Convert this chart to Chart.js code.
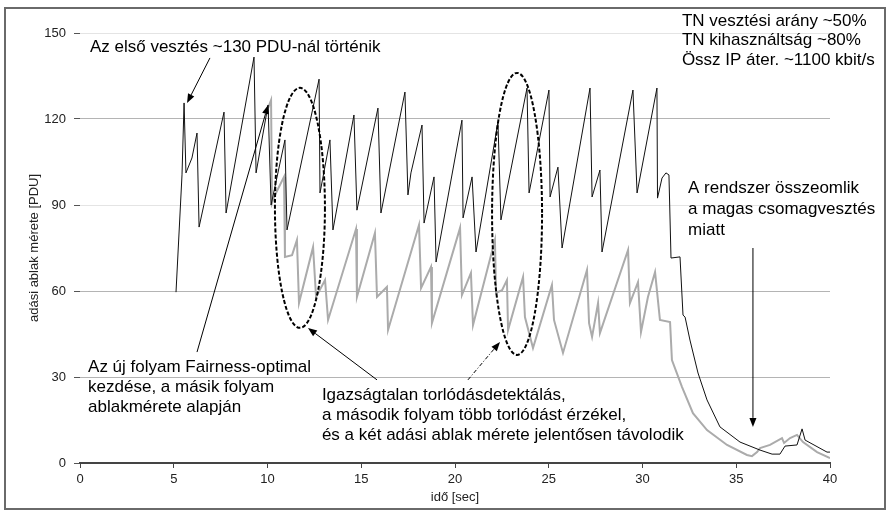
<!DOCTYPE html>
<html><head><meta charset="utf-8">
<script src="https://cdn.jsdelivr.net/npm/chart.js@4"></script>
<style>html,body{margin:0;padding:0;background:#fff;}#wrap{width:888px;height:511px;position:relative;}</style>
</head><body><div id="wrap"><canvas id="c" width="888" height="511"></canvas></div>
<script>
const xTickValues = [0,5,10,15,20,25,30,35,40];
const yTickValues = [0,30,60,90,120,150];
const flow1Time = [5.12,5.44,5.55,5.65,5.97,6.24,6.35,7.68,7.79,9.28,9.39,10.03,10.19,10.93,11.04,12.75,12.80,13.33,13.49,14.61,14.77,15.89,16.05,17.33,17.49,17.65,18.24,18.35,18.88,18.99,20.37,20.43,20.91,21.12,22.29,22.45,23.84,23.95,25.01,25.07,25.49,25.71,27.20,27.31,27.73,27.84,29.49,29.71,30.77,30.80,31.04,31.25,31.41,31.52,32.00,32.16,32.27,32.53,32.96,33.44,34.13,35.20,36.27,36.91,37.33,37.60,38.24,38.51,38.67,39.84,40.00];
const flow1Window = [59.6,100.5,125.6,101.2,106.4,115.1,82.3,122.4,87.2,141.6,101.2,124.9,90.0,112.7,81.3,133.9,94.2,112.7,81.3,121.4,88.2,123.8,87.2,129.4,93.5,101.2,117.9,83.7,99.8,70.1,119.6,85.5,99.8,73.6,118.9,84.8,130.8,94.2,130.1,92.8,103.2,75.0,130.8,92.8,102.2,73.6,130.1,94.2,130.8,92.4,99.4,101.2,100.5,71.5,71.9,51.6,50.9,42.9,31.4,22.0,12.6,7.3,4.5,3.1,3.1,5.9,6.3,11.9,8.0,3.8,3.8];
const flow2Time = [10.03,10.19,10.24,10.40,10.88,10.93,11.31,11.57,11.68,12.43,12.59,13.07,13.23,14.72,14.77,15.73,15.84,16.37,16.43,18.08,18.19,18.72,18.77,20.27,20.37,20.85,20.96,22.13,22.19,22.51,22.77,22.83,23.63,23.73,24.16,25.17,25.28,25.76,27.04,27.15,27.31,27.63,27.73,29.23,29.33,29.76,29.92,30.29,30.67,30.93,31.47,31.57,32.11,32.69,33.44,34.51,35.57,35.84,36.11,36.27,36.80,37.44,37.55,37.87,38.24,38.56,39.31,40.00];
const flow2Window = [123.8,126.6,90.7,93.5,99.8,71.9,72.5,77.8,55.8,75.3,57.9,63.8,49.9,81.6,57.9,80.2,57.9,61.4,46.4,83.0,61.0,68.4,48.8,82.0,58.6,66.3,48.1,77.8,59.3,60.3,63.8,46.4,64.9,50.9,40.1,62.1,49.9,38.4,67.3,48.8,44.0,55.8,45.3,74.3,55.8,63.1,45.7,57.9,66.6,49.9,49.2,35.9,26.5,17.4,11.5,6.3,2.8,2.4,3.8,5.2,6.3,8.7,7.0,8.7,9.8,7.3,3.8,1.7];

const FONT = "'Liberation Sans', Arial, sans-serif";
const pts = (xs, ys) => xs.map((v, i) => ({x: v, y: ys[i]}));

const annotations = {
  id: 'annotations',
  beforeDraw(chart) {
    const ctx = chart.ctx;
    ctx.save();
    ctx.fillStyle = '#fff';
    ctx.fillRect(0, 0, chart.width, chart.height);
    ctx.restore();
  },
  afterDraw(chart) {
    const {ctx, scales: {x, y}} = chart;
    const px = v => x.getPixelForValue(v);
    const py = v => y.getPixelForValue(v);
    ctx.save();
    // frame
    ctx.strokeStyle = '#6a6a6a';
    ctx.lineWidth = 2;
    ctx.strokeRect(5, 8, 880, 501);

    // ellipses
    ctx.strokeStyle = '#000';
    ctx.lineWidth = 2;
    ctx.setLineDash([4, 2]);
    ctx.beginPath(); ctx.ellipse(px(11.73), py(89.0), 25, 120, 0, 0, Math.PI * 2); ctx.stroke();
    ctx.beginPath(); ctx.ellipse(px(23.31), py(86.9), 25, 141, 0, 0, Math.PI * 2); ctx.stroke();
    ctx.setLineDash([]);

    function arrow(x1, y1, x2, y2, dash) {
      const a = px(x1), b = py(y1), c = px(x2), d = py(y2);
      const ang = Math.atan2(d - b, c - a);
      const L = 9, W = 3.5;
      ctx.strokeStyle = '#000';
      ctx.fillStyle = '#000';
      ctx.lineWidth = 1;
      ctx.setLineDash(dash || []);
      ctx.beginPath(); ctx.moveTo(a, b); ctx.lineTo(c - L * Math.cos(ang), d - L * Math.sin(ang)); ctx.stroke();
      ctx.setLineDash([]);
      ctx.beginPath();
      ctx.moveTo(c, d);
      ctx.lineTo(c - L * Math.cos(ang) + W * Math.sin(ang), d - L * Math.sin(ang) - W * Math.cos(ang));
      ctx.lineTo(c - L * Math.cos(ang) - W * Math.sin(ang), d - L * Math.sin(ang) + W * Math.cos(ang));
      ctx.closePath(); ctx.fill();
    }
    arrow(6.93, 141.3, 5.71, 125.6);
    arrow(6.24, 38.7, 10.03, 124.9);
    arrow(35.89, 75, 35.89, 12.6);
    arrow(15.84, 29.0, 12.16, 47.1);
    arrow(20.69, 29.0, 22.40, 42.2, [4, 2, 1, 2]);

    function text(lines, xv, yv, step) {
      ctx.fillStyle = '#000';
      ctx.font = '17px ' + FONT;
      ctx.textAlign = 'left';
      ctx.textBaseline = 'middle';
      lines.forEach((t, i) => ctx.fillText(t, px(xv), py(yv) + i * step));
    }
    text(['Az első vesztés ~130 PDU-nál történik'], 0.53, 145.1, 0);
    text(['TN vesztési arány ~50%', 'TN kihasználtság ~80%', 'Össz IP áter. ~1100 kbit/s'], 32.1, 154.2, 19.5);
    text(['A rendszer összeomlik', 'a magas csomagvesztés', 'miatt'], 32.43, 95.9, 21);
    text(['Az új folyam Fairness-optimal', 'kezdése, a másik folyam', 'ablakmérete alapján'], 0.43, 33.5, 20);
    text(['Igazságtalan torlódásdetektálás,', 'a második folyam több torlódást érzékel,', 'és a két adási ablak mérete jelentősen távolodik'], 12.9, 23.7, 20);
    ctx.restore();
  }
};

new Chart(document.getElementById('c'), {
  type: 'line',
  data: {
    datasets: [
      {data: pts(flow1Time, flow1Window), borderColor: '#111', borderWidth: 1, pointRadius: 0, tension: 0, fill: false},
      {data: pts(flow2Time, flow2Window), borderColor: '#ababab', borderWidth: 2, pointRadius: 0, tension: 0, fill: false}
    ]
  },
  options: {
    responsive: false,
    devicePixelRatio: 1,
    animation: false,
    layout: {padding: {left: 0, right: 58, top: 33, bottom: 0}},
    plugins: {legend: {display: false}, tooltip: {enabled: false}},
    scales: {
      x: {
        type: 'linear', min: 0, max: 40,
        afterBuildTicks: s => { s.ticks = xTickValues.map(v => ({value: v})); },
        afterFit: s => { s.height = 48; },
        border: {display: true, color: '#444', width: 2},
        grid: {drawOnChartArea: false, drawTicks: true, tickLength: 5, tickColor: '#444', tickWidth: 1},
        ticks: {color: '#222', font: {family: FONT, size: 13}, padding: 4, maxRotation: 0},
        title: {display: true, text: 'idő [sec]', color: '#222', font: {family: FONT, size: 13}, padding: {top: 0, bottom: 6}}
      },
      y: {
        min: 0, max: 150,
        afterBuildTicks: s => { s.ticks = yTickValues.map(v => ({value: v})); },
        afterFit: s => { s.width = 80; },
        border: {display: false},
        grid: {
          color: c => (c.tick && (c.tick.value === 90 || c.tick.value === 150)) ? '#e4e4e4' : (c.tick && c.tick.value === 0 ? 'rgba(0,0,0,0)' : '#b4b4b4'),
          lineWidth: 1, drawTicks: true, tickLength: 6, tickColor: '#555'
        },
        ticks: {color: '#222', font: {family: FONT, size: 13}, padding: 8},
        title: {display: true, text: 'adási ablak mérete [PDU]', color: '#222', font: {family: FONT, size: 13}, padding: {top: 27, bottom: 0}}
      }
    }
  },
  plugins: [annotations]
});
</script>
</body></html>
